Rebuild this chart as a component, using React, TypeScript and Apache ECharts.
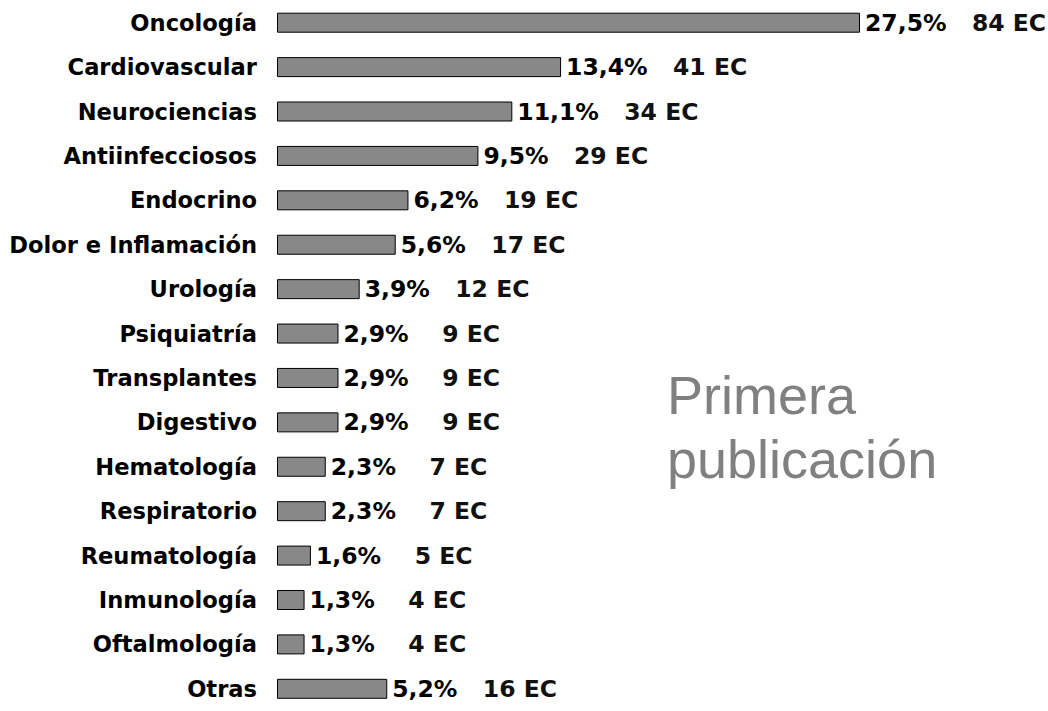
import React, { useEffect, useRef } from "react";
import * as echarts from "echarts";

const categories = [
  "Oncología",
  "Cardiovascular",
  "Neurociencias",
  "Antiinfecciosos",
  "Endocrino",
  "Dolor e Inflamación",
  "Urología",
  "Psiquiatría",
  "Transplantes",
  "Digestivo",
  "Hematología",
  "Respiratorio",
  "Reumatología",
  "Inmunología",
  "Oftalmología",
  "Otras",
];
const percents = [27.5, 13.4, 11.1, 9.5, 6.2, 5.6, 3.9, 2.9, 2.9, 2.9, 2.3, 2.3, 1.6, 1.3, 1.3, 5.2];
const ecCounts = [84, 41, 34, 29, 19, 17, 12, 9, 9, 9, 7, 7, 5, 4, 4, 16];
const noteText = "Primera\npublicación";

const FONT = "'DejaVu Sans', Verdana, sans-serif";

export default function App() {
  const ref = useRef<HTMLDivElement>(null);
  useEffect(() => {
    if (!ref.current) return;
    const chart = echarts.init(ref.current, undefined, { renderer: "svg" });
    chart.setOption({
      animation: false,
      backgroundColor: "#ffffff",
      grid: { left: 277, top: 0.5, width: 763.2, height: 721, containLabel: false },
      xAxis: {
        type: "value",
        min: 0,
        max: 36,
        show: false,
        splitLine: { show: false },
      },
      yAxis: {
        type: "category",
        inverse: true,
        data: categories,
        axisLine: { show: false },
        axisTick: { show: false },
        splitLine: { show: false },
        axisLabel: {
          margin: 20,
          color: "#000",
          fontFamily: FONT,
          fontWeight: "bold",
          fontSize: 22.6,
        },
      },
      series: [
        {
          type: "bar",
          data: percents,
          barWidth: 20,
          itemStyle: { color: "#888888", borderColor: "#000", borderWidth: 1 },
          label: {
            show: true,
            position: "right",
            distance: 5,
            formatter: (p: any) =>
              "{p|" + percents[p.dataIndex].toFixed(1).replace(".", ",") + "%}{e|" + ecCounts[p.dataIndex] + " EC}",
            rich: {
              p: { fontFamily: FONT, fontWeight: "bold", fontSize: 23.5, color: "#000" },
              e: {
                fontFamily: FONT,
                fontWeight: "bold",
                fontSize: 23.5,
                color: "#111",
                width: 75,
                align: "center",
                padding: [0, 0, 0, 25],
              },
            },
          },
        },
      ],
      graphic: [
        {
          type: "text",
          left: 667,
          top: 363,
          style: {
            text: noteText,
            fontFamily: "'Liberation Sans', Arial, sans-serif",
            fontSize: 54,
            lineHeight: 64,
            fill: "#808080",
          },
        },
      ],
    });
    return () => chart.dispose();
  }, []);
  return (
    <div
      ref={ref}
      style={{ position: "fixed", left: 0, top: 0, width: 1048, height: 711, background: "#fff" }}
    />
  );
}
